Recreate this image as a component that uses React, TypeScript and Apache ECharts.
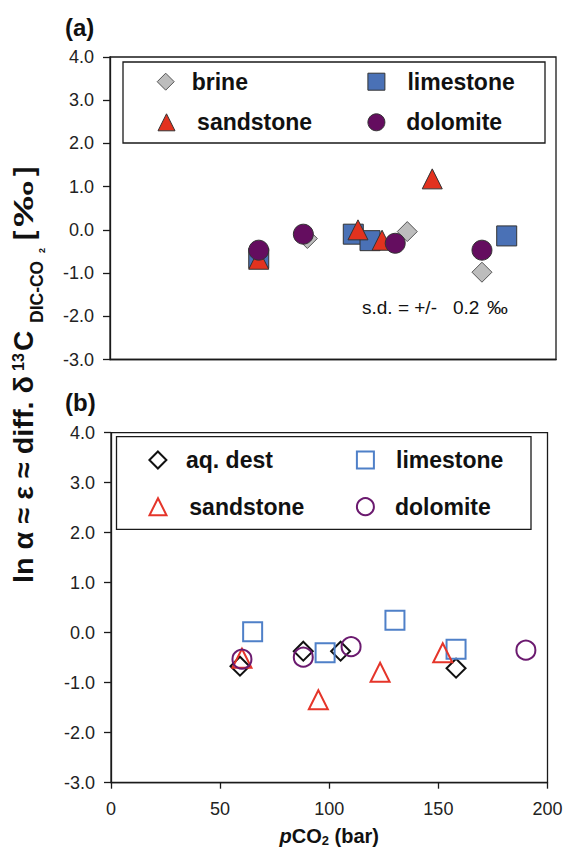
import React, { useEffect, useRef } from "react";
import * as echarts from "echarts";

const FONT = '"Liberation Sans", Arial, Helvetica, sans-serif';

// x range and tick values
const X_MIN = 0;
const X_MAX = 200;
const X_STEP = 50;
const Y_MIN = -3;
const Y_MAX = 4;
const Y_STEP = 1;

// Panel (a): filled symbols  [pCO2 (bar), ln alpha (permil)]
const brineA = [
  [88.5, -0.2],
  [133.3, -0.04],
  [166.8, -0.98],
];
const limestoneA = [
  [66.7, -0.66],
  [109.1, -0.1],
  [116.6, -0.25],
  [177.9, -0.14],
];
const sandstoneA = [
  [66.7, -0.68],
  [111.2, 0.0],
  [122.0, -0.24],
  [144.5, 1.18],
];
const dolomiteA = [
  [66.7, -0.47],
  [86.7, -0.1],
  [127.9, -0.31],
  [166.8, -0.47],
];

// Panel (b): open symbols
const aqDestB = [
  [59.1, -0.67],
  [88.1, -0.37],
  [105.2, -0.37],
  [158.1, -0.71],
];
const limestoneB = [
  [64.9, 0.02],
  [98.1, -0.4],
  [130.1, 0.25],
  [158.1, -0.33],
];
const sandstoneB = [
  [60.0, -0.51],
  [95.0, -1.34],
  [123.3, -0.79],
  [152.0, -0.4],
];
const dolomiteB = [
  [60.0, -0.53],
  [88.1, -0.49],
  [110.0, -0.28],
  [190.1, -0.35],
];

const C = {
  brine: "#bdbdbd",
  brineEdge: "#555555",
  lime: "#4a71b6",
  sand: "#e2321f",
  dolo: "#640d5f",
  edge: "#333333",
  aq: "#111111",
  limeB: "#4f80c8",
  sandB: "#e5352a",
  doloB: "#6b1a6f",
};

function legendItem(
  name: string,
  icon: string,
  fill: string,
  stroke: string,
  bw: number,
  cx: number,
  cy: number,
  size: number,
  textX: number
) {
  const left = cx - size / 2;
  const pad = textX - left - size - 5;
  return {
    show: true,
    selectedMode: false,
    orient: "horizontal",
    left,
    top: cy - 11.5,
    padding: 0,
    itemWidth: size,
    itemHeight: size,
    data: [
      {
        name,
        icon,
        itemStyle: { color: fill, borderColor: stroke, borderWidth: bw },
      },
    ],
    textStyle: {
      fontFamily: FONT,
      fontWeight: "bold",
      fontSize: 23,
      color: "#111",
      padding: [0, 0, 0, pad],
    },
  };
}

const axisLineStyle = { color: "#1a1a1a", width: 1.3 };
const tickLabel = {
  fontFamily: FONT,
  fontSize: 18,
  color: "#222",
};

function yAxis(gridIndex: number) {
  return {
    gridIndex,
    type: "value",
    min: Y_MIN,
    max: Y_MAX,
    interval: Y_STEP,
    axisLine: { show: true, onZero: false, lineStyle: axisLineStyle },
    axisTick: { show: true, inside: false, length: 7, lineStyle: axisLineStyle },
    axisLabel: {
      ...tickLabel,
      margin: 16,
      formatter: (v: number) => v.toFixed(1),
    },
    splitLine: { show: false },
  };
}

function ySub(text: string, x: number, y: number, size: number, extra: any = {}) {
  return {
    type: "text",
    x,
    y,
    ...extra,
    style: {
      text,
      fontFamily: FONT,
      fontWeight: "bold",
      fontSize: size,
      fill: "#111",
      textAlign: "left",
      textVerticalAlign: "middle",
      align: "left",
      verticalAlign: "middle",
    },
  };
}

function plainText(text: string, x: number, y: number, size: number, bold: boolean) {
  return {
    type: "text",
    x,
    y,
    style: {
      text,
      fontFamily: FONT,
      fontWeight: bold ? "bold" : "normal",
      fontSize: size,
      fill: "#111",
      textAlign: "left",
      textVerticalAlign: "middle",
      align: "left",
      verticalAlign: "middle",
    },
  };
}

export default function App() {
  const ref = useRef<HTMLDivElement>(null);

  useEffect(() => {
    if (!ref.current) return;
    const chart = echarts.init(ref.current, undefined, { renderer: "svg" });

    const filled = (
      name: string,
      data: number[][],
      symbol: string,
      color: string,
      edge: string
    ) => ({
      type: "scatter",
      name,
      xAxisIndex: 0,
      yAxisIndex: 0,
      data,
      symbol,
      symbolSize: 20,
      itemStyle: { color, borderColor: edge, borderWidth: 1, opacity: 1 },
      emphasis: { disabled: true },
    });
    const open = (name: string, data: number[][], symbol: string, color: string) => ({
      type: "scatter",
      name,
      xAxisIndex: 1,
      yAxisIndex: 1,
      data,
      symbol,
      symbolSize: 19,
      itemStyle: {
        color: "rgba(255,255,255,0)",
        borderColor: color,
        borderWidth: 2,
        opacity: 1,
      },
      emphasis: { disabled: true },
    });

    const option: any = {
      animation: false,
      backgroundColor: "#ffffff",
      textStyle: { fontFamily: FONT },
      grid: [
        {
          left: 110,
          top: 57,
          width: 446,
          height: 302.5,
          show: true,
          borderColor: "#1a1a1a",
          borderWidth: 1.3,
          backgroundColor: "transparent",
          containLabel: false,
          outerBoundsMode: "none",
        },
        {
          left: 111,
          top: 432.7,
          width: 436.5,
          height: 350,
          show: true,
          borderColor: "#1a1a1a",
          borderWidth: 1.3,
          backgroundColor: "transparent",
          containLabel: false,
          outerBoundsMode: "none",
        },
      ],
      xAxis: [
        {
          gridIndex: 0,
          type: "value",
          min: X_MIN,
          max: X_MAX,
          interval: X_STEP,
          axisLine: { show: true, onZero: false, lineStyle: axisLineStyle },
          axisTick: { show: false },
          axisLabel: { show: false },
          splitLine: { show: false },
        },
        {
          gridIndex: 1,
          type: "value",
          min: X_MIN,
          max: X_MAX,
          interval: X_STEP,
          axisLine: { show: true, onZero: false, lineStyle: axisLineStyle },
          axisTick: { show: true, inside: false, length: 6, lineStyle: axisLineStyle },
          axisLabel: { ...tickLabel, margin: 17 },
          splitLine: { show: false },
          name: "{i|p}{b|CO}{s|2}{b| (bar)}",
          nameLocation: "middle",
          nameGap: 43,
          nameTextStyle: {
            rich: {
              i: {
                fontFamily: FONT,
                fontWeight: "bold",
                fontStyle: "italic",
                fontSize: 20,
                color: "#111",
              },
              b: { fontFamily: FONT, fontWeight: "bold", fontSize: 20, color: "#111" },
              s: {
                fontFamily: FONT,
                fontWeight: "bold",
                fontSize: 13,
                color: "#111",
                verticalAlign: "bottom",
                lineHeight: 21,
              },
            },
          },
        },
      ],
      yAxis: [yAxis(0), yAxis(1)],
      legend: [
        legendItem("brine", "diamond", C.brine, C.brineEdge, 1, 165.2, 81.7, 17, 191.2),
        legendItem("limestone", "rect", C.lime, C.edge, 1, 375.9, 81.7, 17, 406.9),
        legendItem("sandstone", "triangle", C.sand, C.edge, 1, 166, 122.3, 17, 196.6),
        legendItem("dolomite", "circle", C.dolo, C.edge, 1, 375.9, 122.3, 17, 405.8),
        legendItem("aq. dest", "diamond", "rgba(255,255,255,0)", C.aq, 2, 156.9, 460, 17, 185),
        legendItem("limestone", "rect", "rgba(255,255,255,0)", C.limeB, 2, 364.4, 460, 17, 395),
        legendItem("sandstone", "triangle", "rgba(255,255,255,0)", C.sandB, 2, 157, 506.7, 17, 188.3),
        legendItem("dolomite", "circle", "rgba(255,255,255,0)", C.doloB, 2, 364.4, 506.7, 17, 394),
      ],
      series: [
        filled("brine", brineA, "diamond", C.brine, C.brineEdge),
        filled("limestone", limestoneA, "rect", C.lime, C.edge),
        filled("sandstone", sandstoneA, "triangle", C.sand, C.edge),
        filled("dolomite", dolomiteA, "circle", C.dolo, C.edge),
        open("aq. dest", aqDestB, "diamond", C.aq),
        open("limestone", limestoneB, "rect", C.limeB),
        open("sandstone", sandstoneB, "triangle", C.sandB),
        open("dolomite", dolomiteB, "circle", C.doloB),
      ],
      graphic: [
        // legend frames
        {
          type: "rect",
          shape: { x: 123, y: 62, width: 422, height: 81 },
          style: { fill: "none", stroke: "#1a1a1a", lineWidth: 1.3 },
          z: 1,
        },
        {
          type: "rect",
          shape: { x: 116.5, y: 436.7, width: 414.5, height: 92.6 },
          style: { fill: "none", stroke: "#1a1a1a", lineWidth: 1.3 },
          z: 1,
        },
        // panel labels
        plainText("(a)", 65, 27, 24, true),
        plainText("(b)", 65, 402, 24, true),
        // s.d. note
        {
          type: "group",
          children: [
            plainText("s.d. = +/-", 362, 307, 19, false),
            plainText("0.2", 453, 307, 19, false),
            { ...plainText("‰", 487, 307, 19, false), scaleX: 1.1 },
          ],
        },
        // rotated y-axis title
        {
          type: "group",
          x: 23.3,
          y: 583,
          rotation: Math.PI / 2,
          children: [
            ySub("ln α ≈ ε ≈ diff. δ", 0, 0, 28, { scaleX: 1.03 }),
            ySub("13", 212, -4.5, 16),
            ySub("C", 232, 0, 28),
            ySub("DIC-CO", 260, 14, 17.5),
            ySub("2", 330, 19, 9),
            ySub("[", 343, 0, 28),
            ySub("‰", 356, 0, 28, { scaleX: 1.65 }),
            ySub("]", 407, 0, 28),
          ],
        },
      ],
    };

    chart.setOption(option);
    return () => {
      chart.dispose();
    };
  }, []);

  return (
    <div
      ref={ref}
      style={{ position: "fixed", left: 0, top: 0, width: 566, height: 850, background: "#fff" }}
    />
  );
}
